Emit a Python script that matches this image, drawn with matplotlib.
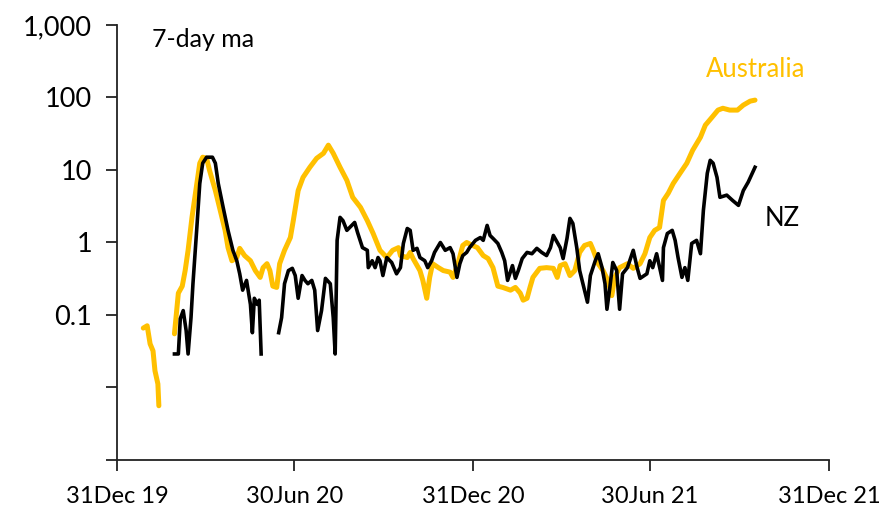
import numpy as np
import pandas as pd
import matplotlib
matplotlib.use("Agg")
import matplotlib.pyplot as plt
from matplotlib.ticker import FixedLocator, NullLocator

# =========================
# DATA (days since 31 Dec 2019, 7-day ma)
# =========================
aus_day = [27, 31, 34, 37, 39, 42, 43, 50,
           59, 63, 67, 70, 73, 77, 82, 85, 88, 92, 95, 101, 106, 111, 114, 118,
           123, 126, 131, 137, 142, 147, 150, 154, 157, 160, 164, 167, 172, 178,
           181, 186, 191, 198, 205, 212, 217, 222, 229, 236, 242, 250, 257, 263,
           270, 277, 283, 289, 291, 298, 301, 304, 311, 314, 318, 321, 324, 330,
           335, 342, 345, 350, 355, 359, 365, 370, 376, 381, 386, 391, 396, 404,
           409, 414, 417, 421, 424, 427, 434, 441, 448, 452, 455, 460, 465, 470,
           475, 480, 486, 489, 494, 499, 504, 508, 511, 516, 524, 530, 537, 542,
           547, 552, 557, 561, 566, 571, 578, 585, 591, 599, 604, 611, 617, 622,
           629, 637, 643, 650, 655]
aus_val = [0.066, 0.071, 0.040, 0.032, 0.017, 0.0112, 0.0056, np.nan,
           0.055, 0.20, 0.25, 0.41, 0.78, 2.22, 6.5, 12.4, 15.0, 14.5, 9.9, 5.2,
           2.77, 1.47, 0.85, 0.56, 0.62, 0.83, 0.66, 0.56, 0.41, 0.33, 0.45,
           0.51, 0.41, 0.25, 0.24, 0.51, 0.78, 1.17, 2.0, 5.2, 7.9, 10.9, 14.5,
           17.0, 22.0, 17.0, 10.9, 7.2, 4.2, 3.05, 2.0, 1.33, 0.78, 0.62, 0.78,
           0.85, 0.66, 0.62, 0.73, 0.60, 0.41, 0.30, 0.17, 0.33, 0.51, 0.45,
           0.41, 0.39, 0.33, 0.51, 0.91, 1.0, 0.91, 0.85, 0.66, 0.60, 0.45,
           0.25, 0.24, 0.22, 0.24, 0.20, 0.16, 0.17, 0.24, 0.33, 0.44, 0.45,
           0.44, 0.33, 0.48, 0.51, 0.35, 0.41, 0.73, 0.91, 0.97, 0.78, 0.51,
           0.41, 0.30, 0.185, 0.33, 0.45, 0.51, 0.44, 0.51, 0.70, 1.17, 1.47,
           1.61, 3.8, 4.8, 6.5, 9.0, 12.4, 18.7, 28.3, 41.5, 53.6, 67.0, 71.0,
           67.0, 67.0, 78.5, 89.0, 92.0]

nz_day = [59, 63, 65, 68, 71, 73, 76, 78, 82, 85, 88, 92, 98, 101, 104, 109,
          114, 119, 123, 126, 129, 133, 137, 139, 141, 144, 146, 148, 157,
          166, 169, 172, 176, 180, 183, 186, 190, 193, 196, 200, 203, 206, 210,
          214, 219, 222, 224, 226, 229, 232, 236, 241, 244, 247, 252, 257, 258,
          262, 265, 268, 270, 273, 277, 282, 287, 291, 294, 298, 301, 304, 308,
          311, 316, 319, 323, 326, 332, 337, 342, 345, 349, 352, 355, 359, 362,
          368, 373, 376, 380, 383, 386, 391, 395, 398, 401, 406, 409, 412, 416,
          421, 426, 431, 436, 441, 445, 448, 452, 455, 458, 462, 465, 468, 472,
          475, 478, 483, 486, 491, 494, 498, 501, 503, 506, 509, 513, 516, 519,
          524, 530, 534, 537, 544, 547, 550, 554, 560, 561, 565, 570, 573, 576,
          580, 583, 586, 590, 595, 599, 602, 606, 609, 612, 616, 619, 626, 632,
          638, 643, 648, 655]
nz_val = [0.029, 0.029, 0.089, 0.115, 0.061, 0.029, 0.092, 0.27, 1.61, 6.5,
          12.4, 15.0, 15.0, 12.4, 6.5, 3.05, 1.47, 0.78, 0.56, 0.37, 0.22,
          0.30, 0.14, 0.057, 0.17, 0.14, 0.16, 0.029, np.nan,
          0.057, 0.092, 0.27, 0.41, 0.44, 0.35, 0.17, 0.35, 0.30, 0.27, 0.30,
          0.22, 0.061, 0.115, 0.32, 0.27, 0.092, 0.029, 1.07, 2.22, 2.0, 1.47,
          1.72, 1.89, 1.37, 0.85, 0.78, 0.45, 0.56, 0.45, 0.62, 0.56, 0.35,
          0.62, 0.53, 0.37, 0.45, 0.97, 1.56, 1.47, 0.78, 0.83, 0.62, 0.56,
          0.45, 0.56, 0.73, 1.0, 0.78, 0.85, 0.70, 0.33, 0.51, 0.66, 0.73,
          0.85, 1.07, 1.17, 1.07, 1.72, 1.25, 1.14, 0.97, 0.73, 0.56, 0.30,
          0.48, 0.32, 0.41, 0.60, 0.73, 0.70, 0.83, 0.73, 0.66, 0.85, 1.25,
          1.0, 0.85, 0.60, 1.14, 2.15, 1.83, 0.85, 0.41, 0.28, 0.15, 0.35,
          0.56, 0.70, 0.45, 0.27, 0.12, 0.24, 0.53, 0.41, 0.12, 0.37, 0.45,
          0.78, 0.45, 0.32, 0.37, 0.56, 0.45, 0.70, 0.30, 0.85, 1.33, 1.47,
          1.07, 0.62, 0.33, 0.45, 0.30, 0.97, 1.07, 0.70, 2.77, 9.0, 13.6,
          12.4, 7.9, 4.2, 4.5, 3.8, 3.25, 5.2, 6.8, 10.9]

x_ticks = ["2019-12-31", "2020-06-30", "2020-12-31", "2021-06-30", "2021-12-31"]
x_labels = ["31Dec 19", "30Jun 20", "31Dec 20", "30Jun 21", "31Dec 21"]
y_ticks = [0.001, 0.01, 0.1, 1, 10, 100, 1000]
y_labels = ["", "", "0.1", "1", "10", "100", "1,000"]

start = pd.Timestamp("2019-12-31")
aus_dates = start + pd.to_timedelta(aus_day, unit="D")
nz_dates = start + pd.to_timedelta(nz_day, unit="D")

gold = "#FFC000"
plt.rcParams["font.family"] = ["Lato", "DejaVu Sans"]

# =========================
# PLOT
# =========================
fig = plt.figure(figsize=(8.95, 5.15), dpi=100)
ax = fig.add_axes([0.1307, 0.1068, 0.7956, 0.8447])

ax.plot(aus_dates, aus_val, color=gold, lw=3.6, solid_capstyle="round",
        solid_joinstyle="round", zorder=2)
ax.plot(nz_dates, nz_val, color="black", lw=2.6, solid_joinstyle="round",
        zorder=3)

ax.set_yscale("log")
ax.set_ylim(0.001, 1000)
ax.set_xlim(pd.Timestamp(x_ticks[0]), pd.Timestamp(x_ticks[-1]))

ax.yaxis.set_major_locator(FixedLocator(y_ticks))
ax.yaxis.set_minor_locator(NullLocator())
ax.set_yticklabels(y_labels)
ax.set_xticks(pd.to_datetime(x_ticks))
ax.set_xticklabels(x_labels)

for s in ["top", "right"]:
    ax.spines[s].set_visible(False)
for s in ["left", "bottom"]:
    ax.spines[s].set_linewidth(1.3)
    ax.spines[s].set_color("#222222")

ax.tick_params(axis="both", direction="out", length=8, width=1.3,
               color="#222222", labelcolor="black")
ax.tick_params(axis="y", pad=10, labelsize=19.5)
ax.tick_params(axis="x", pad=11, labelsize=17)

ax.text(0.049, 0.9655, "7-day ma", transform=ax.transAxes, fontsize=18,
        va="center", ha="left")
ax.text(0.966, 0.8966, "Australia", transform=ax.transAxes, fontsize=18.5,
        color=gold, ha="right", va="center")
ax.text(0.959, 0.556, "NZ", transform=ax.transAxes, fontsize=18.5,
        color="black", ha="right", va="center")

fig.savefig("out.png", dpi=100)
